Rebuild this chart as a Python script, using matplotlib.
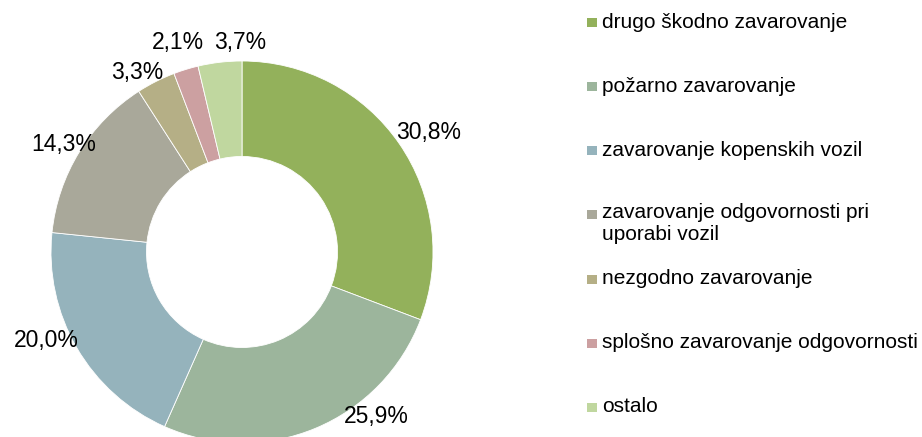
import matplotlib
matplotlib.use("Agg")
import matplotlib.pyplot as plt
from matplotlib.patches import Rectangle

categories = ["drugo škodno zavarovanje", "požarno zavarovanje", "zavarovanje kopenskih vozil",
              "zavarovanje odgovornosti pri\nuporabi vozil", "nezgodno zavarovanje",
              "splošno zavarovanje odgovornosti", "ostalo"]
values = [30.8, 25.9, 20.0, 14.3, 3.3, 2.1, 3.7]
labels = ["30,8%", "25,9%", "20,0%", "14,3%", "3,3%", "2,1%", "3,7%"]
colors = ["#93B15B", "#9CB59C", "#95B3BC", "#A9A89A", "#B5AF86", "#CCA0A1", "#C0D79F"]

W, H = 922, 437
plt.rcParams['font.family'] = ['Liberation Sans', 'DejaVu Sans']
fig = plt.figure(figsize=(W / 100, H / 100), dpi=100)
ax = fig.add_axes([0, 0, 1, 1])

cx, cy, R = 242, H - 252, 191
ax.pie(values, colors=colors, startangle=90, counterclock=False,
       center=(cx, cy), radius=R,
       wedgeprops=dict(width=R * 0.5, edgecolor="white", linewidth=0.6))

# label positions (pixel coordinates, from top)
label_pos = [(429, 132), (376, 417), (46, 340), (64, 144), (137, 73), (178, 43), (240, 43)]
for lab, (x, y) in zip(labels, label_pos):
    ax.text(x, H - y, lab, ha="center", va="center", fontsize=16.5, color="black")

# legend
ys = [22, 86, 150, 214, 279, 343, 407]
for cat, col, y in zip(categories, colors, ys):
    ax.add_patch(Rectangle((587, H - y - 4.5), 10, 9, facecolor=col, edgecolor="none"))
    if "\n" in cat:
        ax.text(602, H - y + 11, cat, ha="left", va="top", fontsize=15,
                color="black", linespacing=1.2)
    else:
        ax.text(602, H - y, cat, ha="left", va="center", fontsize=15, color="black")

ax.set_xlim(0, W)
ax.set_ylim(0, H)
ax.set_aspect("equal")
ax.axis("off")
fig.savefig("out.png", dpi=100)
